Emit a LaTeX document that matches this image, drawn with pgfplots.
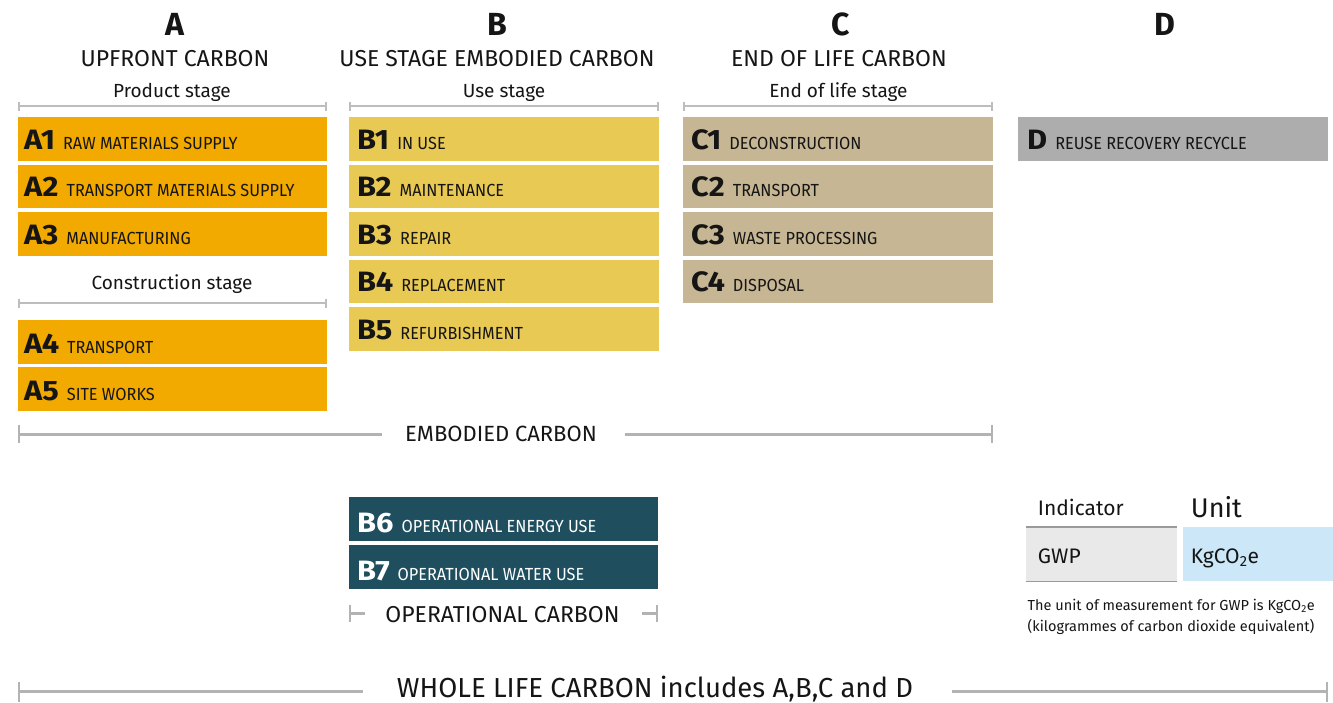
\documentclass[border=0pt]{standalone}
\usepackage{fontspec}
\setmainfont{Fira Sans}
\newfontfamily\lblfont[FakeStretch=0.93]{Fira Sans}
\newfontfamily\codefont[FakeStretch=1.1]{Fira Sans}
\usepackage{pgfplots}
\pgfplotsset{compat=1.18}
\definecolor{cA}{HTML}{F2A900}
\definecolor{cB}{HTML}{E8C954}
\definecolor{cC}{HTML}{C7B693}
\definecolor{cD}{HTML}{ADADAD}
\definecolor{cT}{HTML}{1F4E5E}
\definecolor{ln}{HTML}{BDBDBD}
\definecolor{ln2}{HTML}{B3B3B3}
\definecolor{tx}{HTML}{151515}
\definecolor{tg}{HTML}{E9E9EA}
\definecolor{tb}{HTML}{CBE7F8}
\definecolor{tl}{HTML}{9A9A9A}
\newcommand{\fs}[1]{\fontsize{#1pt}{#1pt}\selectfont}
% box: x1 y1 x2 y2 colour
\newcommand{\bx}[5]{\addplot[fill=#5, draw=none, forget plot] coordinates {(#1,#2) (#3,#2) (#3,#4) (#1,#4)} -- cycle;}
% horizontal line: x1 x2 y width colour
\newcommand{\hl}[5]{\addplot[draw=#5, line width=#4pt, forget plot] coordinates {(#1,#3) (#2,#3)};}
% vertical line: x y1 y2 width colour
\newcommand{\vl}[5]{\addplot[draw=#5, line width=#4pt, forget plot] coordinates {(#1,#2) (#1,#3)};}
% row label: x baseline code text colour
\newcommand{\rl}[5]{\node[anchor=base west, inner sep=0pt, text=#5] at (axis cs:#1,#2) {{\codefont\bfseries\fs{28}#3}\hspace{8pt}{\lblfont\fs{17.5}#4}};}
\begin{document}
\begin{tikzpicture}
\begin{axis}[width=1333pt, height=702pt, scale only axis,
  xmin=0, xmax=1333, ymin=0, ymax=702, y dir=reverse,
  hide axis, clip=false]
% ---- boxes
\bx{18}{117}{327}{160.5}{cA}
\bx{18}{164.5}{327}{207.8}{cA}
\bx{18}{212}{327}{255.5}{cA}
\bx{18}{320}{327}{363.7}{cA}
\bx{18}{367.3}{327}{410.7}{cA}
\bx{349}{117}{659}{160.5}{cB}
\bx{349}{164.5}{659}{207.8}{cB}
\bx{349}{212}{659}{255.5}{cB}
\bx{349}{259.5}{659}{302.8}{cB}
\bx{349}{307}{659}{350.5}{cB}
\bx{683}{117}{993}{160.5}{cC}
\bx{683}{164.5}{993}{207.8}{cC}
\bx{683}{212}{993}{255.5}{cC}
\bx{683}{259.5}{993}{302.8}{cC}
\bx{1018}{117}{1328}{160.5}{cD}
\bx{349}{497.3}{658}{540.7}{cT}
\bx{349}{545}{658}{588.7}{cT}
% table cells
\bx{1026}{527}{1177}{581.5}{tg}
\bx{1183}{527}{1333}{580.5}{tb}
\hl{1026}{1177}{527}{1.6}{tl}
\hl{1026}{1177}{581.5}{1.6}{tl}
% ---- brackets
\hl{18}{327}{106}{2}{ln}\vl{18.8}{102}{110.5}{1.6}{ln}\vl{326.2}{102}{110.5}{1.6}{ln}
\hl{349}{659}{106}{2}{ln}\vl{349.8}{102}{110.5}{1.6}{ln}\vl{658.2}{102}{110.5}{1.6}{ln}
\hl{683}{993}{106}{2}{ln}\vl{683.8}{102}{110.5}{1.6}{ln}\vl{992.2}{102}{110.5}{1.6}{ln}
\hl{18}{327}{303.3}{2}{ln}\vl{18.8}{298.5}{308}{1.6}{ln}\vl{326.2}{298.5}{308}{1.6}{ln}
\hl{18}{382}{434}{3}{ln2}\hl{625}{993}{434}{3}{ln2}\vl{19}{425}{443}{2.2}{ln2}\vl{992}{425}{443}{2.2}{ln2}
\hl{349}{365}{613.5}{2.5}{ln2}\hl{642}{658}{613.5}{2.5}{ln2}\vl{350}{605}{622}{2.2}{ln2}\vl{657}{605}{622}{2.2}{ln2}
\hl{18}{363}{691.5}{3}{ln2}\hl{952}{1328}{691.5}{3}{ln2}\vl{19}{682}{702}{2.2}{ln2}\vl{1327}{682}{702}{2.2}{ln2}
% ---- headers
\node[anchor=base, inner sep=0pt, text=tx, font=\bfseries\fs{32}] at (axis cs:175,35) {A};
\node[anchor=base, inner sep=0pt, text=tx, font=\bfseries\fs{32}] at (axis cs:497,35) {B};
\node[anchor=base, inner sep=0pt, text=tx, font=\bfseries\fs{32}] at (axis cs:841,35) {C};
\node[anchor=base, inner sep=0pt, text=tx, font=\bfseries\fs{32}] at (axis cs:1165,35) {D};
\node[anchor=base, inner sep=0pt, text=tx, font=\fs{23}] at (axis cs:175,66) {UPFRONT CARBON};
\node[anchor=base, inner sep=0pt, text=tx, font=\fs{23}] at (axis cs:497,66) {USE STAGE EMBODIED CARBON};
\node[anchor=base, inner sep=0pt, text=tx, font=\fs{23}] at (axis cs:839,66) {END OF LIFE CARBON};
\node[anchor=base, inner sep=0pt, text=tx, font=\fs{19}] at (axis cs:172,97) {Product stage};
\node[anchor=base, inner sep=0pt, text=tx, font=\fs{19}] at (axis cs:504,97) {Use stage};
\node[anchor=base, inner sep=0pt, text=tx, font=\fs{19}] at (axis cs:838.5,97) {End of life stage};
\node[anchor=base, inner sep=0pt, text=tx, font=\fs{19}] at (axis cs:172,289) {Construction stage};
% ---- row labels
\rl{24}{149}{A1}{RAW MATERIALS SUPPLY}{tx}
\rl{24}{196.5}{A2}{TRANSPORT MATERIALS SUPPLY}{tx}
\rl{24}{244}{A3}{MANUFACTURING}{tx}
\rl{24}{353}{A4}{TRANSPORT}{tx}
\rl{24}{400.5}{A5}{SITE WORKS}{tx}
\rl{357}{149}{B1}{IN USE}{tx}
\rl{357}{196.5}{B2}{MAINTENANCE}{tx}
\rl{357}{244}{B3}{REPAIR}{tx}
\rl{357}{291.5}{B4}{REPLACEMENT}{tx}
\rl{357}{339.5}{B5}{REFURBISHMENT}{tx}
\rl{691}{149}{C1}{DECONSTRUCTION}{tx}
\rl{691}{196.5}{C2}{TRANSPORT}{tx}
\rl{691}{244}{C3}{WASTE PROCESSING}{tx}
\rl{691}{291.5}{C4}{DISPOSAL}{tx}
\rl{1027}{149}{D}{REUSE RECOVERY RECYCLE}{tx}
\rl{357}{532.3}{B6}{OPERATIONAL ENERGY USE}{white}
\rl{357}{580}{B7}{OPERATIONAL WATER USE}{white}
% ---- group labels
\node[anchor=base, inner sep=0pt, text=tx, font=\fs{22}] at (axis cs:501,441.7) {EMBODIED CARBON};
\node[anchor=base, inner sep=0pt, text=tx, font=\fs{23}] at (axis cs:502.5,622.7) {OPERATIONAL CARBON};
\node[anchor=base, inner sep=0pt, text=tx, font=\fs{27.5}] at (axis cs:655,697) {WHOLE LIFE CARBON includes A,B,C and D};
% ---- table
\node[anchor=base west, inner sep=0pt, text=tx, font=\fs{21}] at (axis cs:1037.7,515) {Indicator};
\node[anchor=base west, inner sep=0pt, text=tx, font=\fs{27}] at (axis cs:1190.7,517.3) {Unit};
\node[anchor=base west, inner sep=0pt, text=tx, font=\fs{21}] at (axis cs:1037.7,563.3) {GWP};
\node[anchor=base west, inner sep=0pt, text=tx, font=\fs{21}] at (axis cs:1190.7,563.3) {KgCO\textsubscript{2}e};
\node[anchor=base west, inner sep=0pt, text=tx, font=\fs{14.5}] at (axis cs:1027.5,610.7) {The unit of measurement for GWP is KgCO\textsubscript{2}e};
\node[anchor=base west, inner sep=0pt, text=tx, font=\fs{14.5}] at (axis cs:1027.5,631) {(kilogrammes of carbon dioxide equivalent)};
\end{axis}
\pgfresetboundingbox
\useasboundingbox (current axis.south west) rectangle (current axis.north east);
\end{tikzpicture}
\end{document}
